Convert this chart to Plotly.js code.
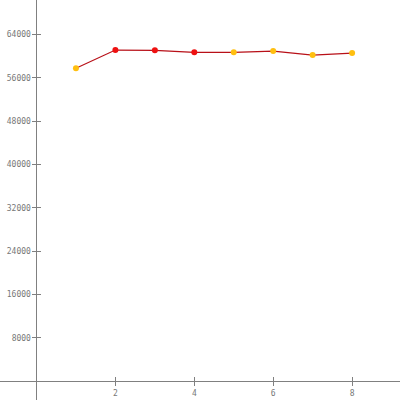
<!DOCTYPE html>
<html>
<head>
<meta charset="utf-8">
<script src="https://cdn.plot.ly/plotly-3.0.1.min.js"></script>
<style>html,body{margin:0;padding:0;background:#fff;}#chart{width:400px;height:400px;}</style>
</head>
<body>
<div id="chart"></div>
<script>
const xValues = [1, 2, 3, 4, 5, 6, 7, 8];
const yValues = [57760, 61130, 61080, 60710, 60710, 60950, 60210, 60580];
const pointGroup = ['B', 'A', 'A', 'A', 'B', 'B', 'B', 'B'];
const xTicks = [2, 4, 6, 8];
const yTicks = [8000, 16000, 24000, 32000, 40000, 48000, 56000, 64000];

const groupColor = {A: '#ee1111', B: '#ffbf10'};
const xRange = [-0.925, 9.214];
const yRange = [-3510, 70377];
const grey = '#808080';
const tickFont = {family: 'DejaVu Sans Mono, monospace', size: 8, color: '#777'};

const main = {
  x: xValues, y: yValues, type: 'scatter', mode: 'lines+markers',
  line: {color: '#b81018', width: 1.2},
  marker: {color: pointGroup.map(g => groupColor[g]), size: 6, symbol: 'circle'},
  hoverinfo: 'x+y', showlegend: false
};
const ghost = {
  x: xValues, y: yValues, type: 'scatter', mode: 'markers',
  xaxis: 'x2', yaxis: 'y2', marker: {opacity: 0}, hoverinfo: 'skip', showlegend: false
};

const xPos = (0 - xRange[0]) / (xRange[1] - xRange[0]);
const yPos = (0 - yRange[0]) / (yRange[1] - yRange[0]);

const layout = {
  width: 400, height: 400,
  margin: {l: 0, r: 0, t: 0, b: 0, pad: 0},
  paper_bgcolor: '#fff', plot_bgcolor: '#fff',
  xaxis: {
    range: xRange, anchor: 'free', position: yPos,
    showgrid: false, zeroline: false, showline: true, linecolor: grey, linewidth: 1,
    tickmode: 'array', tickvals: xTicks, ticktext: xTicks.map(String),
    ticks: 'outside', ticklen: 4, tickcolor: grey, tickwidth: 1, tickfont: tickFont
  },
  yaxis: {
    range: yRange, anchor: 'free', position: xPos,
    showgrid: false, zeroline: false, showline: true, linecolor: grey, linewidth: 1,
    tickmode: 'array', tickvals: yTicks, ticktext: yTicks.map(String),
    ticks: 'outside', ticklen: 4, tickcolor: grey, tickwidth: 1, tickfont: tickFont
  },
  xaxis2: {
    range: xRange, overlaying: 'x', anchor: 'free', position: yPos,
    showgrid: false, zeroline: false, showline: false, showticklabels: false,
    tickmode: 'array', tickvals: xTicks, ticks: 'inside', ticklen: 4, tickcolor: grey, tickwidth: 1
  },
  yaxis2: {
    range: yRange, overlaying: 'y', anchor: 'free', position: xPos,
    showgrid: false, zeroline: false, showline: false, showticklabels: false,
    tickmode: 'array', tickvals: yTicks, ticks: 'inside', ticklen: 4, tickcolor: grey, tickwidth: 1
  }
};

Plotly.newPlot('chart', [main, ghost], layout, {displayModeBar: false, staticPlot: true});
</script>
</body>
</html>
